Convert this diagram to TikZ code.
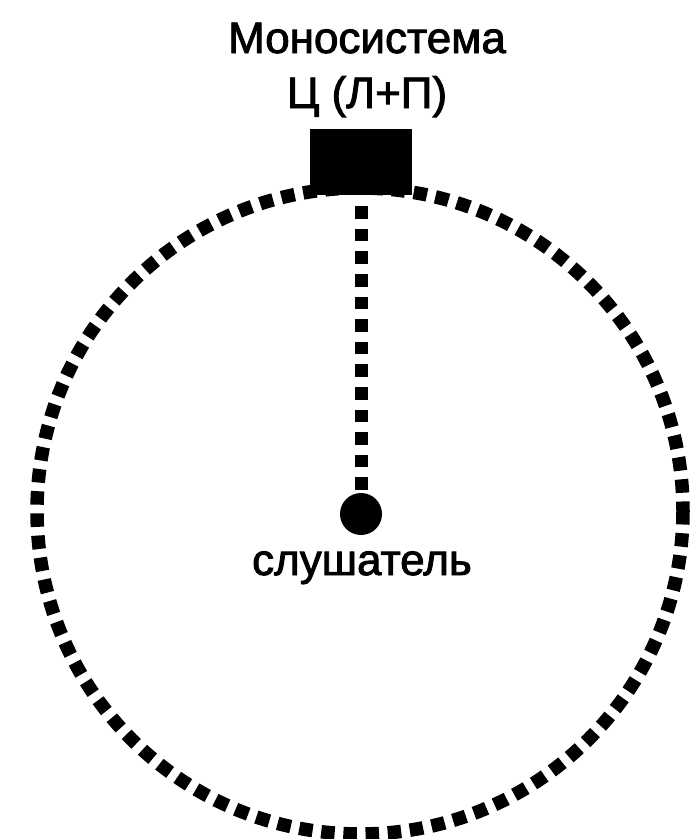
\documentclass[tikz,border=0pt]{standalone}
\usepackage{fontspec}
\setmainfont{Liberation Sans}
\newfontfamily\lblfont[FakeBold=2]{Liberation Sans}
\begin{document}
\begin{tikzpicture}[x=1pt,y=-1pt,
  lbl/.style={font=\lblfont\fontsize{44}{50}\selectfont, inner sep=0pt, anchor=base},
  dotline/.style={line width=13.5pt, dash pattern=on 13.5pt off 8.7pt},
  vline/.style={line width=13pt, dash pattern=on 12.5pt off 10.1pt}]
\useasboundingbox (0,0) rectangle (692,839);
\coordinate (c) at (360,511);
\draw[dotline] (c) circle[radius=323];
\node[lbl] (t1) at (367,53) {Моносистема};
\node[lbl] (t2) at (367,108) {Ц (Л+П)};
\node[fill=black, minimum width=102pt, minimum height=66pt, inner sep=0pt] (sp) at (361,162) {};
\node[circle, fill=black, minimum size=42pt, inner sep=0pt] (ls) at (361,514) {};
\node[lbl] (t3) at (362,575) {слушатель};
\draw[vline] ([yshift=-11pt]sp.south) -- (ls.north);
\end{tikzpicture}
\end{document}
